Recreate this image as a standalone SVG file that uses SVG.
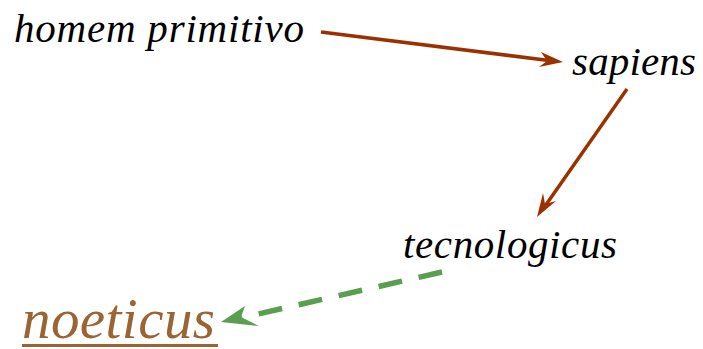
<svg xmlns="http://www.w3.org/2000/svg" width="703" height="349" viewBox="0 0 703 349">
<style>
.t{font-family:"Liberation Serif","Times New Roman",serif;font-style:italic;fill:#000;font-size:41px}
.n{font-family:"Liberation Serif","Times New Roman",serif;font-style:italic;fill:#9b6433;font-size:57px}
.c{fill:none;stroke:#9c3100;stroke-width:3.5}
.d{fill:none;stroke:#5a9e4f;stroke-width:5.5;stroke-dasharray:24 17}
.ar{fill:#9c3100}
.ag{fill:#5a9e4f}
</style>
<g id="connectors">
<line class="c" x1="321" y1="32" x2="553" y2="61"/>
<path class="ar" d="M563,62 L541,52 L547,61 L539,67 Z"/>
<line class="c" x1="627" y1="89" x2="543" y2="209"/>
<path class="ar" d="M537,217 L543,193 L545,204 L556,201 Z"/>
<line class="d" x1="442" y1="272" x2="236" y2="319"/>
<path class="ag" d="M221,322 L245,306 L241,317 L259,326 Z"/>
</g>
<g id="homem"><text class="t" x="14" y="42" textLength="290" lengthAdjust="spacing">homem primitivo</text></g>
<g id="sapiens"><text class="t" x="572" y="75" textLength="124" lengthAdjust="spacing">sapiens</text></g>
<g id="tecnologicus"><text class="t" x="403" y="258" textLength="214" lengthAdjust="spacing">tecnologicus</text></g>
<g id="noeticus"><text class="n" x="22" y="338" textLength="193" lengthAdjust="spacing">noeticus</text><rect x="22" y="344" width="196" height="3" fill="#9b6433"/></g>
</svg>
